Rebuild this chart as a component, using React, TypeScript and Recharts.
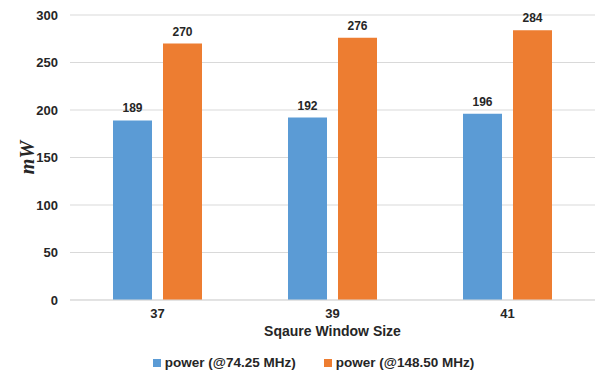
import React from 'react';
import { BarChart, Bar, XAxis, YAxis, CartesianGrid, Legend, LabelList, Label } from 'recharts';

const windowSizes = ['37', '39', '41'];
const power74 = [189, 192, 196];
const power148 = [270, 276, 284];
const yTicks = [0, 50, 100, 150, 200, 250, 300];

const data = windowSizes.map((size, i) => ({
  size,
  p74: power74[i],
  p148: power148[i],
}));

const FONT = '"Liberation Sans", Arial, sans-serif';
const TEXT = '#262626';
const GRID = '#D9D9D9';

const YLabel = (props: any) => {
  const { viewBox } = props;
  const cx = 27;
  const cy = viewBox.y + viewBox.height / 2;
  return (
    <text
      x={cx}
      y={cy}
      transform={`rotate(-90 ${cx} ${cy})`}
      textAnchor="middle"
      dominantBaseline="central"
      fontFamily='"Liberation Serif", "Times New Roman", serif'
      fontStyle="italic"
      fontWeight="bold"
      fontSize={20}
      fill={TEXT}
    >
      mW
    </text>
  );
};

const legendOrder = (item: any) => (item.dataKey === 'p74' ? 0 : 1);

const App: React.FC = () => {
  return (
    <div style={{ position: 'absolute', left: 0, top: 0, background: '#fff' }}>
      <BarChart
        width={596}
        height={375}
        data={data}
        margin={{ top: 15, right: 1, left: 0, bottom: 12 }}
        barSize={39}
        barGap={11}
      >
        <CartesianGrid vertical={false} stroke={GRID} />
        <XAxis
          dataKey="size"
          height={48}
          tickSize={0}
          tickMargin={9}
          axisLine={{ stroke: GRID }}
          tick={{ fontFamily: FONT, fontSize: 13, fontWeight: 'bold', fill: TEXT }}
        >
          <Label
            value="Sqaure Window Size"
            position="insideBottom"
            offset={12}
            style={{ fontFamily: FONT, fontSize: 14, fontWeight: 'bold', fill: TEXT }}
          />
        </XAxis>
        <YAxis
          width={70}
          domain={[0, 300]}
          ticks={yTicks}
          axisLine={false}
          tickLine={false}
          tickSize={0}
          tickMargin={12}
          tick={{ fontFamily: FONT, fontSize: 13, fontWeight: 'bold', fill: TEXT }}
        >
          <Label content={YLabel} />
        </YAxis>
        <Legend
          verticalAlign="bottom"
          align="center"
          iconType="square"
          iconSize={8}
          itemSorter={legendOrder}
          wrapperStyle={{
            fontFamily: FONT,
            fontSize: 13.5,
            fontWeight: 'bold',
            top: 355,
            bottom: 'auto',
            paddingLeft: 30,
          }}
          formatter={(value: string) => <span style={{ color: TEXT, marginRight: 18 }}>{value}</span>}
        />
        <Bar dataKey="p74" name="power (@74.25 MHz)" fill="#5B9BD5" isAnimationActive={false}>
          <LabelList
            dataKey="p74"
            position="top"
            offset={8}
            style={{ fontFamily: FONT, fontSize: 12, fontWeight: 'bold', fill: TEXT }}
          />
        </Bar>
        <Bar dataKey="p148" name="power (@148.50 MHz)" fill="#ED7D31" isAnimationActive={false}>
          <LabelList
            dataKey="p148"
            position="top"
            offset={8}
            style={{ fontFamily: FONT, fontSize: 12, fontWeight: 'bold', fill: TEXT }}
          />
        </Bar>
      </BarChart>
    </div>
  );
};

export default App;
